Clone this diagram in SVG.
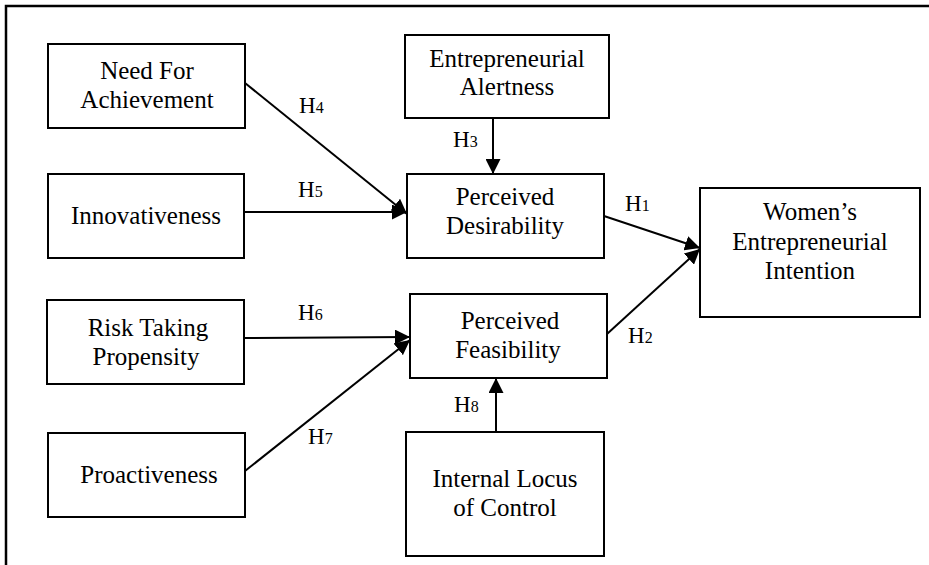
<svg xmlns="http://www.w3.org/2000/svg" width="929" height="565" viewBox="0 0 929 565">
<style>
.box{fill:#fff;stroke:#000;stroke-width:2}
.t{font-family:"Liberation Serif","Times New Roman",serif;font-size:25px;fill:#000;text-anchor:middle}
.h{font-family:"Liberation Serif","Times New Roman",serif;font-size:23px;fill:#000}
.s{font-size:16px}
.c{stroke:#000;stroke-width:2;fill:none;marker-end:url(#ah)}
</style>
<defs>
<marker id="ah" markerUnits="userSpaceOnUse" markerWidth="15" markerHeight="15" refX="15" refY="7.5" orient="auto">
<path d="M0,0 L15,7.5 L0,15 Z" fill="#000"/>
</marker>
</defs>
<rect width="929" height="565" fill="#fff"/>
<path d="M6,565 V6 H929" fill="none" stroke="#000" stroke-width="2.5"/>
<g id="connectors">
<line class="c" x1="245" y1="83" x2="407" y2="214"/>
<line class="c" x1="244" y1="212" x2="407" y2="212"/>
<line class="c" x1="493" y1="118" x2="493" y2="174"/>
<line class="c" x1="604" y1="216" x2="700" y2="248"/>
<line class="c" x1="607" y1="334" x2="700" y2="249"/>
<line class="c" x1="244" y1="338" x2="410" y2="337"/>
<line class="c" x1="245" y1="471" x2="410" y2="340"/>
<line class="c" x1="496" y1="432" x2="496" y2="378"/>
<text class="h" x="299" y="113">H<tspan class="s">4</tspan></text>
<text class="h" x="298" y="197">H<tspan class="s">5</tspan></text>
<text class="h" x="453" y="147">H<tspan class="s">3</tspan></text>
<text class="h" x="625" y="211">H<tspan class="s">1</tspan></text>
<text class="h" x="628" y="343">H<tspan class="s">2</tspan></text>
<text class="h" x="298" y="320">H<tspan class="s">6</tspan></text>
<text class="h" x="308" y="444">H<tspan class="s">7</tspan></text>
<text class="h" x="454" y="412">H<tspan class="s">8</tspan></text>
</g>
<g id="need">
<rect class="box" x="48" y="44" width="197" height="84"/>
<text class="t" x="147" y="79">Need For</text>
<text class="t" x="147" y="108">Achievement</text>
</g>
<g id="innov">
<rect class="box" x="48" y="174" width="196" height="84"/>
<text class="t" x="146" y="224">Innovativeness</text>
</g>
<g id="alert">
<rect class="box" x="405" y="35" width="204" height="83"/>
<text class="t" x="507" y="67">Entrepreneurial</text>
<text class="t" x="507" y="95">Alertness</text>
</g>
<g id="desir">
<rect class="box" x="407" y="174" width="197" height="84"/>
<text class="t" x="505" y="205">Perceived</text>
<text class="t" x="505" y="234">Desirability</text>
</g>
<g id="women">
<rect class="box" x="700" y="188" width="220" height="129"/>
<text class="t" x="810" y="220">Women’s</text>
<text class="t" x="810" y="250">Entrepreneurial</text>
<text class="t" x="810" y="279">Intention</text>
</g>
<g id="risk">
<rect class="box" x="47" y="300" width="197" height="84"/>
<text class="t" x="148" y="336">Risk Taking</text>
<text class="t" x="146" y="365">Propensity</text>
</g>
<g id="proact">
<rect class="box" x="48" y="433" width="197" height="84"/>
<text class="t" x="149" y="483">Proactiveness</text>
</g>
<g id="feas">
<rect class="box" x="410" y="294" width="197" height="84"/>
<text class="t" x="510" y="329">Perceived</text>
<text class="t" x="508" y="358">Feasibility</text>
</g>
<g id="locus">
<rect class="box" x="406" y="432" width="198" height="124"/>
<text class="t" x="505" y="487">Internal Locus</text>
<text class="t" x="505" y="516">of Control</text>
</g>
</svg>
